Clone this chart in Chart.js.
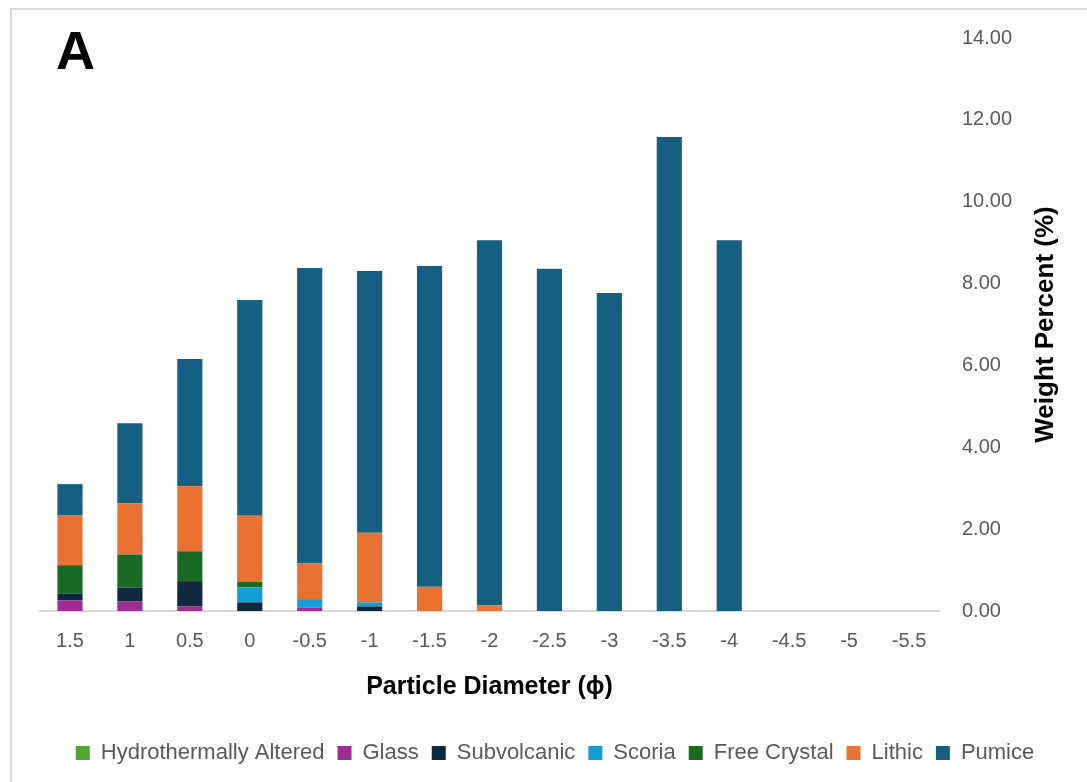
<!DOCTYPE html>
<html>
<head>
<meta charset="utf-8">
<script src="https://cdn.jsdelivr.net/npm/chart.js@4.4.1/dist/chart.umd.min.js"></script>
<style>
	html, body { margin: 0; padding: 0; background: #ffffff; }
	#wrap { width: 1087px; height: 782px; position: relative; }
</style>
</head>
<body>
<div id="wrap"><canvas id="myChart" width="1087" height="782"></canvas></div>
<script>
const categories = ["1.5", "1", "0.5", "0", "-0.5", "-1", "-1.5", "-2", "-2.5", "-3", "-3.5", "-4", "-4.5", "-5", "-5.5"];

const hydrothermal = [0, 0, 0, 0, 0, 0, 0, 0, 0, 0, 0, 0, null, null, null];
const glass = [0.26, 0.24, 0.11, 0, 0.08, 0, 0, 0, 0, 0, 0, 0, null, null, null];
const subvolcanic = [0.16, 0.33, 0.62, 0.21, 0, 0.11, 0, 0, 0, 0, 0, 0, null, null, null];
const scoria = [0, 0, 0, 0.37, 0.21, 0.10, 0, 0, 0, 0, 0, 0, null, null, null];
const freeCrystal = [0.70, 0.81, 0.73, 0.14, 0, 0, 0, 0, 0, 0, 0, 0, null, null, null];
const lithic = [1.21, 1.25, 1.59, 1.61, 0.87, 1.70, 0.59, 0.14, 0, 0, 0, 0, null, null, null];
const pumice = [0.77, 1.96, 3.11, 5.27, 7.22, 6.40, 7.84, 8.92, 8.36, 7.77, 11.58, 9.06, null, null, null];

const yTicks = [0, 2, 4, 6, 8, 10, 12, 14];

const textGray = "#595959";
const fontFamily = "'Liberation Sans', Arial, sans-serif";

function makeSet(label, data, color) {
	return {
		label: label,
		data: data,
		backgroundColor: color,
		borderWidth: 0,
		categoryPercentage: 1,
		barPercentage: 0.42,
	};
}

// frame, panel letter and the y axis title (reads bottom to top)
const decorPlugin = {
	id: "decor",
	beforeDraw(chart) {
		const ctx = chart.ctx;
		ctx.save();
		ctx.fillStyle = "#ffffff";
		ctx.fillRect(0, 0, chart.width, chart.height);
		ctx.strokeStyle = "#d9d9d9";
		ctx.lineWidth = 2;
		ctx.strokeRect(11, 9, chart.width + 20, chart.height + 20);
		ctx.restore();
	},
	afterDraw(chart) {
		const ctx = chart.ctx;
		const area = chart.chartArea;
		ctx.save();
		ctx.fillStyle = "#000000";
		ctx.font = "bold 54px " + fontFamily;
		ctx.textBaseline = "alphabetic";
		ctx.fillText("A", 56, 69);

		ctx.translate(1053, (area.top + area.bottom) / 2);
		ctx.rotate(-Math.PI / 2);
		ctx.font = "bold 26px " + fontFamily;
		ctx.textAlign = "center";
		ctx.textBaseline = "alphabetic";
		ctx.fillText("Weight Percent (%)", 0, 0);
		ctx.restore();
	},
};

const ctx = document.getElementById("myChart");

new Chart(ctx, {
	type: "bar",
	data: {
		labels: categories,
		datasets: [
			makeSet("Hydrothermally Altered", hydrothermal, "#4EA72E"),
			makeSet("Glass", glass, "#A02B93"),
			makeSet("Subvolcanic", subvolcanic, "#0E2841"),
			makeSet("Scoria", scoria, "#0F9ED5"),
			makeSet("Free Crystal", freeCrystal, "#196B24"),
			makeSet("Lithic", lithic, "#E97132"),
			makeSet("Pumice", pumice, "#156082"),
		],
	},
	options: {
		responsive: false,
		animation: false,
		layout: {
			padding: { left: 40, right: 17, top: 38, bottom: 8 },
		},
		plugins: {
			legend: {
				position: "bottom",
				labels: {
					color: textGray,
					font: { family: fontFamily, size: 22 },
					boxWidth: 14,
					boxHeight: 14,
					padding: 13,
				},
			},
			tooltip: { enabled: false },
		},
		scales: {
			x: {
				stacked: true,
				grid: { display: false, drawTicks: false },
				border: { display: true, color: "#d9d9d9", width: 2 },
				ticks: {
					color: textGray,
					font: { family: fontFamily, size: 20 },
					padding: 18,
					maxRotation: 0,
					autoSkip: false,
				},
				title: {
					display: true,
					text: "Particle Diameter (\u03d5)",
					color: "#000000",
					font: { family: fontFamily, size: 25, weight: "bold" },
					padding: { top: 1, bottom: 27 },
				},
			},
			y: {
				stacked: true,
				position: "right",
				min: 0,
				max: 14,
				grid: { display: false, drawTicks: false },
				border: { display: false },
				afterBuildTicks(scale) {
					scale.ticks = yTicks.map((v) => ({ value: v }));
				},
				ticks: {
					color: textGray,
					font: { family: fontFamily, size: 20 },
					padding: 23,
					callback: (v) => Number(v).toFixed(2),
				},
				afterFit(scale) {
					scale.width = 131;
				},
			},
		},
	},
	plugins: [decorPlugin],
});
</script>
</body>
</html>
